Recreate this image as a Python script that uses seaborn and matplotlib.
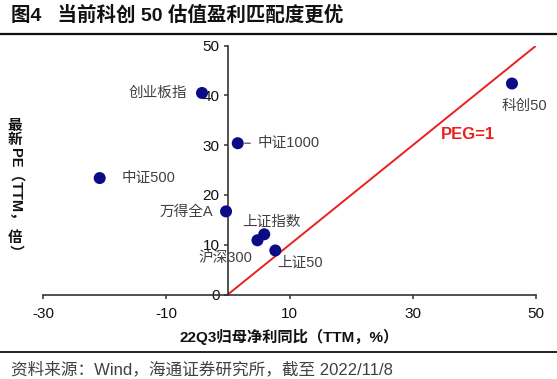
import numpy as np
import pandas as pd
import matplotlib
matplotlib.use("Agg")
import matplotlib.pyplot as plt
import seaborn as sns

# ---- data ----
names = ["创业板指", "中证1000", "中证500", "万得全A", "上证指数", "沪深300", "上证50", "科创50"]
growth = [-4.2, 1.6, -20.8, -0.3, 5.9, 4.8, 7.7, 46.1]      # 22Q3 net profit yoy (TTM, %)
pe = [40.5, 30.4, 23.4, 16.7, 12.1, 10.9, 8.85, 42.4]      # latest PE (TTM)
peg_x = [0, 50]
peg_y = [0, 50]
xticks = [-30, -10, 10, 30, 50]
yticks = [0, 10, 20, 30, 40, 50]

title = "图4   当前科创 50 估值盈利匹配度更优"
xlabel = "22Q3归母净利同比（TTM，%）"
source = "资料来源：Wind，海通证券研究所，截至 2022/11/8"

sns.set_theme(style="white")
plt.rcParams["font.family"] = ["Liberation Sans", "Noto Sans CJK SC", "DejaVu Sans"]
plt.rcParams["axes.unicode_minus"] = False

W, H = 557, 379
fig = plt.figure(figsize=(W / 100, H / 100), dpi=100)
ax = fig.add_axes([43 / W, 1 - 294.5 / H, (536 - 43) / W, (294.5 - 45.7) / H])

df = pd.DataFrame({"name": names, "growth": growth, "pe": pe})
peg = pd.DataFrame({"x": peg_x, "y": peg_y})

sns.lineplot(data=peg, x="x", y="y", color="#e8211d", linewidth=1.4, ax=ax)
sns.scatterplot(data=df, x="growth", y="pe", color="#0b0b85", s=75, edgecolor="none", ax=ax, zorder=3)

ax.set_xlim(-30, 50)
ax.set_ylim(0, 50)
ax.set_xticks(xticks)
ax.set_yticks(yticks)
ax.spines["left"].set_position(("data", 0))
ax.spines["bottom"].set_position(("data", 0))
ax.spines["top"].set_visible(False)
ax.spines["right"].set_visible(False)
for sp in ("left", "bottom"):
    ax.spines[sp].set_color("#333333")
    ax.spines[sp].set_linewidth(1.2)
ax.tick_params(axis="both", direction="out", length=3, width=1.1, color="#333333",
               labelsize=11, labelcolor="#111111", bottom=True, left=True)
ax.tick_params(axis="x", pad=6)
ax.tick_params(axis="y", pad=3)
ax.set_xlabel("")
ax.set_ylabel("")

# point labels: offsets in pixels
offsets = {
    "创业板指": (-15, 0, "right"),
    "中证1000": (20, 0, "left"),
    "中证500": (22, 0, "left"),
    "万得全A": (-13, 0, "right"),
    "上证指数": (7, 12, "center"),
    "沪深300": (-32, -18, "center"),
    "上证50": (25, -12, "center"),
    "科创50": (12, -22, "center"),
}
for n, gx, py in zip(names, growth, pe):
    dx, dy, ha = offsets[n]
    kw = {}
    if n == "中证1000":
        kw["arrowprops"] = dict(arrowstyle="-", color="#555555", lw=0.9, shrinkA=3, shrinkB=5)
    ax.annotate(n, xy=(gx, py), xytext=(dx, dy), textcoords="offset pixels",
                ha=ha, va="center", fontsize=10.5, color="#404040", **kw)

ax.text(38.9, 32.1, "PEG=1", color="#e8211d", fontsize=12, fontweight="bold",
        ha="center", va="center")

# title and rules
fig.text(11 / W, 1 - 15 / H, title, fontsize=14, fontweight="bold", color="#111111",
         ha="left", va="center")
fig.add_artist(plt.Line2D([0, 1], [1 - 34 / H, 1 - 34 / H], color="#111111", lw=1.6))
fig.add_artist(plt.Line2D([0, 1], [1 - 352 / H, 1 - 352 / H], color="#111111", lw=1.3))
fig.text(289 / W, 1 - 337 / H, xlabel, fontsize=11, fontweight="bold", color="#111111",
         ha="center", va="center")
fig.text(11 / W, 1 - 369 / H, source, fontsize=12, color="#404040", ha="left", va="center")

# vertical y label
yx = 15 / W
kwy = dict(fontsize=10.5, fontweight="bold", color="#111111", ha="center", va="center")
fig.text(yx, 1 - 133 / H, "最\n新", linespacing=1.05, **kwy)
fig.text(yx, 1 - 187 / H, "PE（TTM，", rotation=270, **kwy)
fig.text(yx, 1 - 238 / H, "倍", **kwy)
fig.text(yx, 1 - 251 / H, "）", rotation=270, **kwy)

fig.savefig("out.png", dpi=100)
